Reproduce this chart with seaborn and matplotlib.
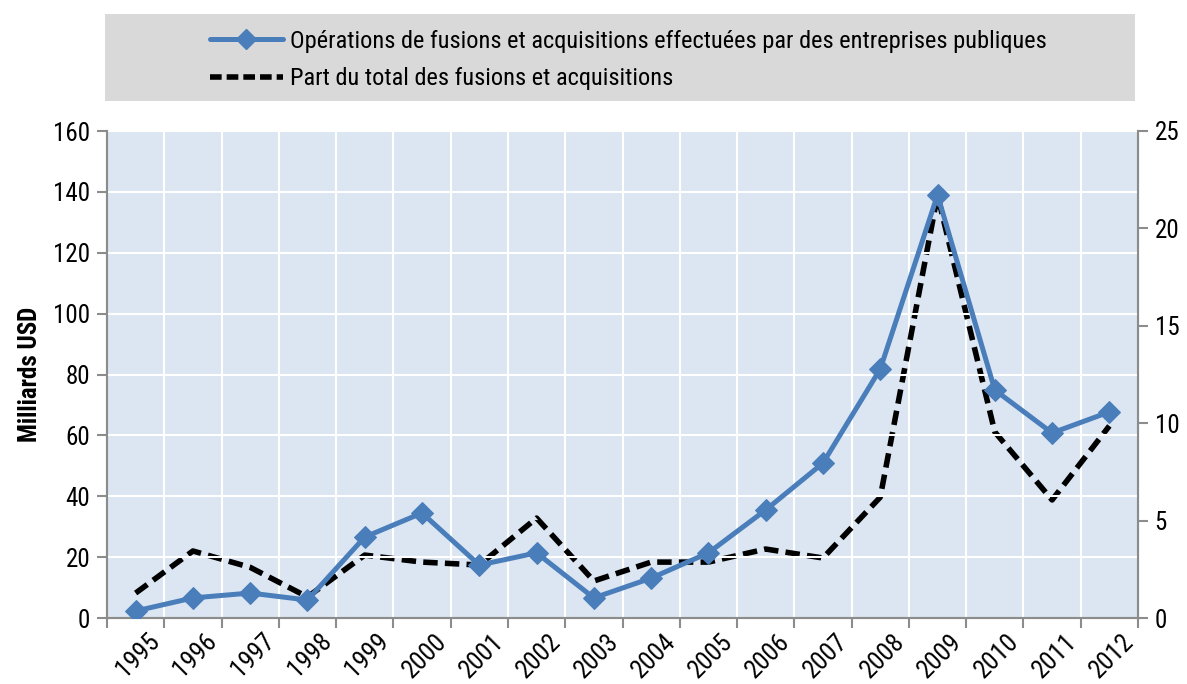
import matplotlib
matplotlib.use("Agg")
import matplotlib.pyplot as plt
import seaborn as sns
import pandas as pd
import numpy as np
from matplotlib.ticker import FixedLocator, MultipleLocator
from matplotlib.lines import Line2D
from matplotlib.patches import Rectangle
from matplotlib import font_manager

years = ["1995", "1996", "1997", "1998", "1999", "2000", "2001", "2002", "2003",
         "2004", "2005", "2006", "2007", "2008", "2009", "2010", "2011", "2012"]
ma_values = [2.3, 6.6, 8.2, 5.9, 26.6, 34.5, 17.4, 21.4, 6.6,
             13.1, 21.4, 35.5, 50.9, 81.8, 139.0, 74.9, 60.8, 67.7]
share_values = [1.28, 3.44, 2.6, 1.08, 3.23, 2.87, 2.72, 5.13, 1.9,
                2.87, 2.87, 3.54, 3.08, 6.2, 21.7, 9.55, 6.06, 9.86]
label_ma = "Opérations de fusions et acquisitions effectuées par des entreprises publiques"
label_share = "Part du total des fusions et acquisitions"
ylabel_left = "Milliards USD"

sns.set_theme(style="white")
names = {f.name for f in font_manager.fontManager.ttflist}
fam = "DejaVu Sans"
for cand in ("Roboto Condensed", "Archivo Narrow", "PT Sans Narrow"):
    if cand in names:
        fam = cand
        break
plt.rcParams["font.family"] = [fam, "DejaVu Sans"]
plt.rcParams["text.color"] = "black"
plt.rcParams["xtick.color"] = "black"
plt.rcParams["ytick.color"] = "black"
plt.rcParams["axes.labelcolor"] = "black"

df = pd.DataFrame({"year": years, "ma": ma_values, "share": share_values})
df["pos"] = np.arange(len(years))

W, H = 1187, 684
fig = plt.figure(figsize=(W / 100, H / 100), dpi=100)
ax2 = fig.add_axes([107 / W, 1 - 618 / H, (1138 - 107) / W, (618 - 131) / H])
ax = ax2.twinx()  # left-axis values drawn on top
ax.yaxis.tick_left()
ax.yaxis.set_label_position("left")
ax2.yaxis.tick_right()

bg = "#dce6f2"
blue = "#4a7ebb"
gray = "#8c8c8c"
ax2.set_facecolor(bg)
ax.patch.set_visible(False)

sns.lineplot(data=df, x="pos", y="share", ax=ax2, color="black", linewidth=4.0, zorder=3)
dl = ax2.lines[0]
dl.set_linewidth(4.0)
dl.set_dashes([2.6, 1.3])
sns.lineplot(data=df, x="pos", y="ma", ax=ax, color=blue, linewidth=3.6,
             marker="D", markersize=11, markeredgecolor=blue, zorder=4)
ax.lines[0].set_linewidth(3.6)

ax.set_xlim(-0.5, len(years) - 0.5)
ax2.set_xlim(-0.5, len(years) - 0.5)
ax.set_ylim(0, 160)
ax2.set_ylim(0, 25)
ax.yaxis.set_major_locator(MultipleLocator(20))
ax2.yaxis.set_major_locator(MultipleLocator(5))

for a in (ax, ax2):
    a.xaxis.set_major_locator(FixedLocator(df["pos"].tolist()))
    a.xaxis.set_minor_locator(FixedLocator((np.arange(len(years) + 1) - 0.5).tolist()))
ax.tick_params(axis="x", which="both", bottom=False, labelbottom=False)
ax2.set_xticklabels(years, rotation=45, ha="right", va="top", rotation_mode="anchor")
ax2.tick_params(axis="x", which="major", length=0, pad=8, labelsize=18.5)
ax2.tick_params(axis="x", which="minor", length=7, width=1.5, color=gray, direction="out", bottom=True)
ax.tick_params(axis="y", length=7, width=1.5, color=gray, direction="out", left=True, right=False,
               labelleft=True, labelright=False, labelsize=18, pad=5)
ax2.tick_params(axis="y", length=7, width=1.5, color=gray, direction="out", right=True, left=False,
                labelright=True, labelleft=False, labelsize=18, pad=5)
for lab in ax2.get_xticklabels():
    lab.set_transform(lab.get_transform() + matplotlib.transforms.ScaledTranslation(0.12, 0, fig.dpi_scale_trans))

ax.grid(False)
ax2.grid(True, which="minor", axis="x", color="white", lw=1.5)
ax2.grid(False, which="major", axis="x")
ax2.grid(False, axis="y")
for yv in ax.get_yticks()[1:-1]:
    ax.axhline(yv, color="white", lw=1.5, zorder=0)
ax2.set_axisbelow(True)

for a in (ax, ax2):
    a.spines["top"].set_visible(False)
    for s in ("left", "right", "bottom"):
        a.spines[s].set_color(gray)
        a.spines[s].set_linewidth(1.5)

ax.set_xlabel("")
ax2.set_xlabel("")
ax.set_ylabel(ylabel_left, fontsize=18, fontweight="bold", labelpad=8)
ax2.set_ylabel("")

# legend box
fig.patches.append(Rectangle((105 / W, 1 - 101 / H), (1135 - 105) / W, (101 - 14) / H,
                             transform=fig.transFigure, facecolor="#d9d9d9", edgecolor="none", zorder=0))
handles = [Line2D([], [], color=blue, lw=3.6, marker="D", markersize=10),
           Line2D([], [], color="black", lw=4.0, dashes=[2.1, 0.9])]
leg = fig.legend(handles, [label_ma, label_share], loc="upper left",
                 bbox_to_anchor=(200 / W, 1 - 20 / H), frameon=False, fontsize=17.6,
                 handlelength=3.0, handletextpad=0.3, labelspacing=0.6, borderaxespad=0)

fig.savefig("out.png", dpi=100)
